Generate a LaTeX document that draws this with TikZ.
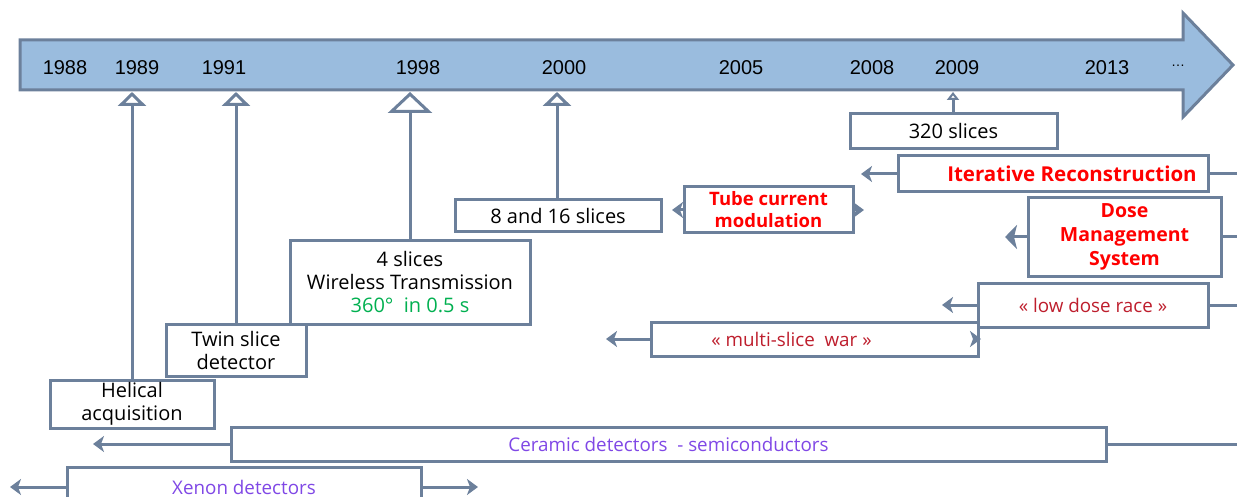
\documentclass[tikz,border=0pt]{standalone}
\usepackage{fontspec}
\setmainfont{Open Sans}
\newfontfamily\yearfont{Liberation Sans}
\usetikzlibrary{arrows.meta}
\definecolor{edgec}{RGB}{108,128,155}
\definecolor{bandc}{RGB}{154,188,222}
\definecolor{hotc}{RGB}{255,0,0}
\definecolor{darkredc}{RGB}{190,30,45}
\definecolor{violetc}{RGB}{128,72,230}
\definecolor{greenc}{RGB}{0,176,80}
\begin{document}
\begin{tikzpicture}[x=1pt,y=-1pt,
  box/.style={draw=edgec,line width=3pt,fill=white,inner sep=0pt,align=center,
    font=\fontsize{20}{24}\selectfont},
  yearlbl/.style={font=\yearfont\fontsize{20}{20}\selectfont,inner sep=0pt},
  link/.style={draw=edgec,line width=3pt},
  upsmall/.style={link,-{Triangle[open,length=14pt,width=28pt]}},
  upbig/.style={link,-{Triangle[open,length=21pt,width=44pt]}},
  uptiny/.style={link,-{Triangle[open,length=8pt,width=12pt]}},
  side/.style={link,-{Stealth[length=11pt,width=16pt,inset=3pt]}},
  sidebig/.style={link,-{Stealth[length=12pt,width=24pt,inset=3pt]}},
  hot/.style={text=hotc,font=\bfseries\fontsize{19.5}{25}\selectfont},
  soft/.style={font=\fontsize{18.8}{22}\selectfont},
]
\useasboundingbox (0,0) rectangle (1237,497);
\clip (0,0) rectangle (1237,497);

% main timeline arrow
\draw[draw=edgec,fill=bandc,line width=3pt]
  (20,40) -- (1183,40) -- (1183,13) -- (1233,65) -- (1183,117) -- (1183,90) -- (20,90) -- cycle;

\node[yearlbl] at (65,68) {1988};
\node[yearlbl] at (137,68) {1989};
\node[yearlbl] at (224,68) {1991};
\node[yearlbl] at (418,68) {1998};
\node[yearlbl] at (564,68) {2000};
\node[yearlbl] at (741,68) {2005};
\node[yearlbl] at (872,68) {2008};
\node[yearlbl] at (957,68) {2009};
\node[yearlbl] at (1107,68) {2013};
\node[yearlbl] at (1178,66) {\fontsize{14}{14}\selectfont\dots};

\coordinate (y1989) at (132,92);
\coordinate (y1991) at (236,92);
\coordinate (y1998) at (410,92);
\coordinate (y2000) at (557,92);
\coordinate (y2009) at (953,92);

% boxes
\node[box,minimum width=164pt,minimum height=48pt] (helical) at (132,404)
  {Helical\\[-1pt]acquisition};
\node[box,minimum width=140pt,minimum height=52pt] (twin) at (236,350)
  {Twin slice\\[-1pt]detector};
\node[box,minimum width=240pt,minimum height=83pt] (four) at (410,282.5)
  {4 slices\\[-1pt]Wireless Transmission\\[-1pt]\textcolor{greenc}{360\textdegree\ \ in 0.5 s}};
\node[box,minimum width=206pt,minimum height=32pt] (eight) at (558,216) {8 and 16 slices};
\node[box,minimum width=169pt,minimum height=46pt,hot,font=\bfseries\fontsize{18.5}{22}\selectfont] (tube) at (768.5,210)
  {Tube current\\modulation};
\node[box,minimum width=207pt,minimum height=35pt] (s320) at (953.5,131.5) {320 slices};
\node[box,minimum width=310pt,minimum height=36pt,hot,font=\bfseries\fontsize{20.5}{25}\selectfont] (iter) at (1053,174)
  {\hspace*{38pt}Iterative Reconstruction};
\node[box,minimum width=193pt,minimum height=78pt,hot] (dose) at (1124.5,237)
  {Dose\\[-1pt]Management\\[-1pt]System};
\node[box,minimum width=230pt,minimum height=44pt,text=darkredc,soft] (low) at (1093,305)
  {\guillemotleft\ low dose race \guillemotright};
\node[box,minimum width=327pt,minimum height=34pt,text=darkredc,soft] (multi) at (814.5,339)
  {\guillemotleft\ multi-slice\ \ war \guillemotright\hspace*{46pt}};
\node[box,minimum width=875pt,minimum height=34pt,text=violetc,soft] (ceramic) at (668.5,444)
  {Ceramic detectors\ \ - semiconductors};
\node[box,minimum width=354pt,minimum height=40pt,text=violetc,soft] (xenon) at (244,487)
  {Xenon detectors};

% connectors to the timeline
\draw[upsmall] (helical.north -| y1989) -- (y1989);
\draw[upsmall] (twin.north -| y1991) -- (y1991);
\draw[upbig] (four.north -| y1998) -- (y1998);
\draw[upsmall] (eight.north -| y2000) -- (y2000);
\draw[uptiny] (s320.north -| y2009) -- (y2009);

% duration arrows
\coordinate (tubeL) at (672,210);
\coordinate (tubeR) at (864,210);
\draw[side] (tube.west) -- (tubeL);
\draw[side] (tube.east) -- (tubeR);

\coordinate (iterL) at (861,174);
\coordinate (iterR) at (1245,174);
\draw[side] (iter.west) -- (iterL);
\draw[link] (iter.east) -- (iterR);

\coordinate (doseL) at (1005,237);
\coordinate (doseR) at (1245,237);
\draw[sidebig] (dose.west) -- (doseL);
\draw[link] (dose.east) -- (doseR);

\coordinate (lowL) at (942,305);
\coordinate (lowR) at (1245,305);
\draw[side] (low.west) -- (lowL);
\draw[link] (low.east) -- (lowR);

\coordinate (multiL) at (606,339);
\coordinate (multiR) at (981,339);
\draw[side] (multi.west) -- (multiL);
\draw[side] (multi.east) -- (multiR);

\coordinate (ceramicL) at (93,444);
\coordinate (ceramicR) at (1245,444);
\draw[side] (ceramic.west) -- (ceramicL);
\draw[link] (ceramic.east) -- (ceramicR);

\coordinate (xenonL) at (10,487);
\coordinate (xenonR) at (478,487);
\draw[side] (xenon.west) -- (xenonL);
\draw[side] (xenon.east) -- (xenonR);
\end{tikzpicture}
\end{document}
